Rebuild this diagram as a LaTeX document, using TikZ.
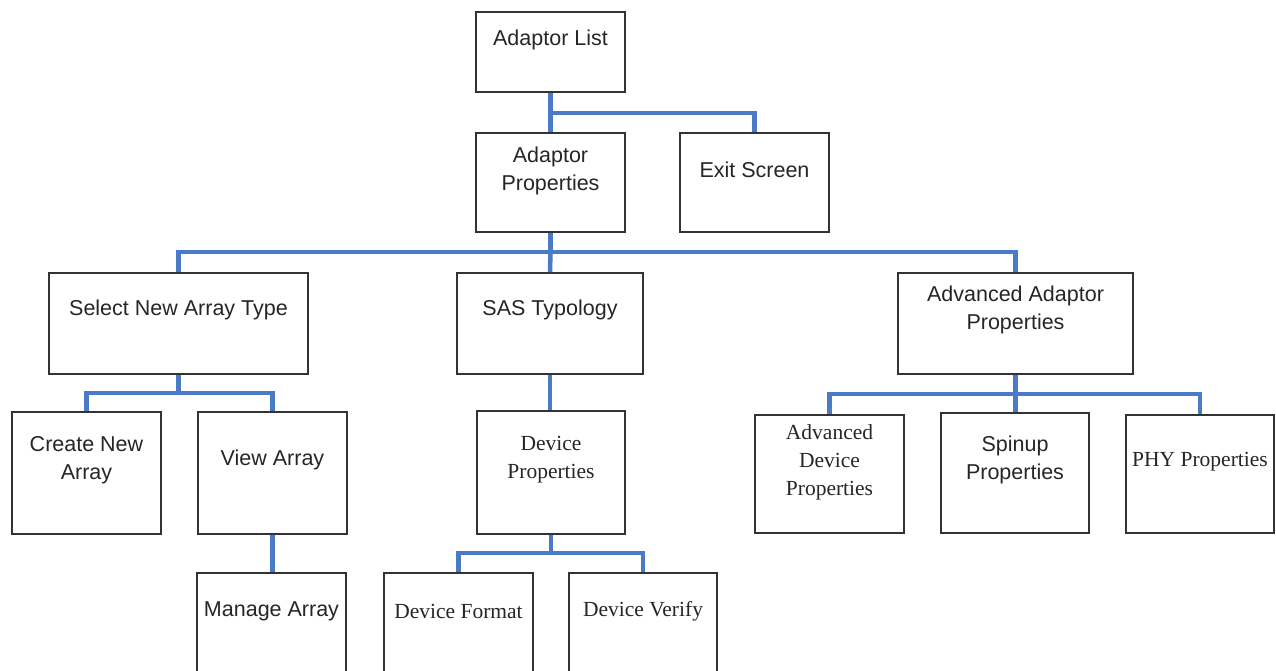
\documentclass[tikz,border=0pt]{standalone}
\usepackage{fontspec}
\setmainfont{Liberation Sans}
\newfontfamily\serifface{Liberation Serif}
\usetikzlibrary{fit}
\definecolor{boxline}{HTML}{333333}
\definecolor{connblue}{HTML}{4A7BC8}
\tikzset{
  bx/.style={draw=boxline, line width=1.7pt, inner sep=0pt, rectangle},
  conn/.style={draw=connblue, line width=4.5pt},
  sanstxt/.style={font=\fontsize{21.5}{28}\selectfont, align=center, inner sep=0pt, text=black!85, yshift=-2pt},
  seriftxt/.style={font=\serifface\fontsize{21.5}{28}\selectfont, align=center, inner sep=0pt, text=black!85, yshift=-2pt},
}
\begin{document}
\begin{tikzpicture}[x=1pt,y=-1pt]
\useasboundingbox (0,0) rectangle (1276,671);
\clip (0,0) rectangle (1276,671);
\fill[white] (0,0) rectangle (1276,671);
% boxes
\node[bx, fit={(476,12) (625,92)}] (al) {};
\node[bx, fit={(476,133) (625,232)}] (ap) {};
\node[bx, fit={(680,133) (829,232)}] (ex) {};
\node[bx, fit={(49,273) (308,374)}] (sel) {};
\node[bx, fit={(457,273) (643,374)}] (sas) {};
\node[bx, fit={(898,273) (1133,374)}] (aap) {};
\node[bx, fit={(12,412) (161,534)}] (cna) {};
\node[bx, fit={(198,412) (347,534)}] (va) {};
\node[bx, fit={(477,411) (625,534)}] (dp) {};
\node[bx, fit={(755,415) (904,533)}] (adp) {};
\node[bx, fit={(941,413) (1089,533)}] (sp) {};
\node[bx, fit={(1126,415) (1274,533)}] (phy) {};
\node[bx, fit={(197,573) (346,700)}] (ma) {};
\node[bx, fit={(384,573) (533,700)}] (df) {};
\node[bx, fit={(569,573) (717,700)}] (dv) {};
% texts
\node[sanstxt] (t-al) at (550.5,38) {Adaptor List};
\node[sanstxt] (t-ap) at (550.5,169) {Adaptor\\Properties};
\node[sanstxt] (t-ex) at (754.5,168) {Exit Screen};
\node[sanstxt] (t-sel) at (178.5,308) {Select New Array Type};
\node[sanstxt] (t-sas) at (550,308) {SAS Typology};
\node[sanstxt] (t-aap) at (1015.5,307.5) {Advanced Adaptor\\Properties};
\node[sanstxt] (t-cna) at (86.5,458) {Create New\\Array};
\node[sanstxt] (t-va) at (272.5,458) {View Array};
\node[seriftxt] (t-dp) at (551,458) {Device\\Properties};
\node[seriftxt] (t-adp) at (829.5,460) {Advanced\\Device\\Properties};
\node[sanstxt] (t-sp) at (1015,457.5) {Spinup\\Properties};
\node[seriftxt] (t-phy) at (1200,460) {PHY Properties};
\node[sanstxt] (t-ma) at (271.5,609) {Manage Array};
\node[seriftxt] (t-df) at (458.5,609) {Device Format};
\node[seriftxt] (t-dv) at (643,609) {Device Verify};
% junctions
\coordinate (j1) at (550.5,113);
\coordinate (j2) at (550.5,252);
\coordinate (j3) at (178.5,393);
\coordinate (j4) at (1015.5,394);
\coordinate (j5) at (551,553);
% connectors
\draw[conn] (al.south) -- (j1) -- (ap.north);
\draw[conn] (j1) -| (ex.north);
\draw[conn] (ap.south) -- (j2);
\draw[conn] (j2) -| (sel.north);
\draw[conn] (j2) -| (aap.north);
\draw[conn] (j2) -- (sas.north);
\draw[conn] (sel.south) -- (j3);
\draw[conn] (j3) -| (cna.north);
\draw[conn] (j3) -| (va.north);
\draw[conn] (sas.south) -- (sas.south |- dp.north);
\draw[conn] (aap.south) -- (j4);
\draw[conn] (j4) -| (adp.north);
\draw[conn] (j4) -| (phy.north);
\draw[conn] (j4) -- (j4 |- sp.north);
\draw[conn] (va.south) -- (va.south |- ma.north);
\draw[conn] (dp.south) -- (j5);
\draw[conn] (j5) -| (df.north);
\draw[conn] (j5) -| (dv.north);
\end{tikzpicture}
\end{document}
